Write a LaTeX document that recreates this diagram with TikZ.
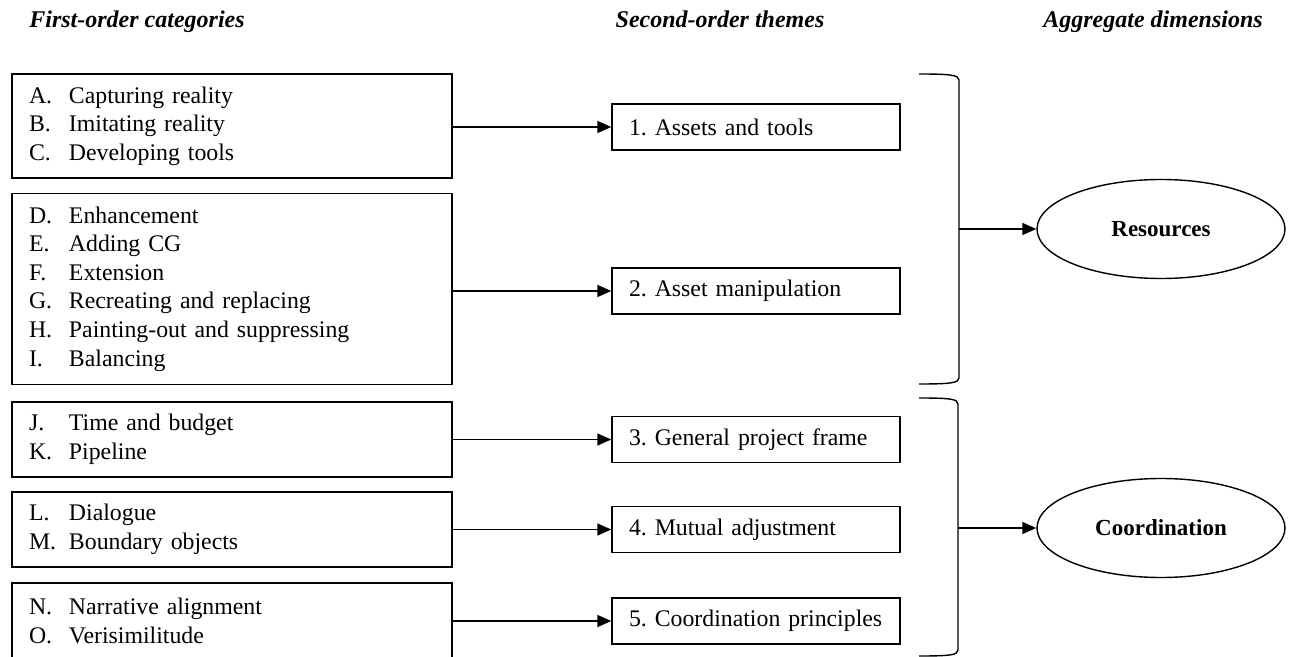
\documentclass[tikz,border=0pt]{standalone}
\usepackage{fontspec}
\setmainfont{Liberation Serif}
\usetikzlibrary{shapes.geometric,arrows.meta}
\newcommand{\itm}[2]{\makebox[20pt][l]{#1}#2}
\frenchspacing

\begin{document}
\begin{tikzpicture}[x=0.5pt,y=-0.5pt,
  every node/.style={font=\fontsize{11.9}{14.3}\selectfont},
  titre/.style={anchor=base, font=\fontsize{12}{14}\selectfont\bfseries\itshape},
  cat/.style={draw, line width=0.7pt, rectangle, text width=203pt, align=left, inner xsep=8.5pt},
  theme/.style={draw, line width=0.7pt, minimum height=23pt, text width=127pt, align=left, inner xsep=8.5pt},
  dim/.style={draw, ellipse, line width=0.7pt, minimum width=124pt, minimum height=49.5pt, font=\fontsize{11.5}{14}\selectfont\bfseries},
  fleche/.style={line width=0.7pt, -{Triangle[length=7pt,width=6pt]}},
  accolade/.style={line width=0.7pt}]

\useasboundingbox (0,0) rectangle (1295,657);

% En-tetes
\node[titre] (t1) at (137,28) {First-order categories};
\node[titre] (t2) at (720,28) {Second-order themes};
\node[titre] (t3) at (1153,28) {Aggregate dimensions};

% Categories
\node[cat, minimum height=52pt] (c1) at (232,126) {\itm{A.}{Capturing reality}\\ \itm{B.}{Imitating reality}\\ \itm{C.}{Developing tools}};
\node[cat, minimum height=95.5pt] (c2) at (232,289) {\itm{D.}{Enhancement}\\ \itm{E.}{Adding CG}\\ \itm{F.}{Extension}\\ \itm{G.}{Recreating and replacing}\\ \itm{H.}{Painting-out and suppressing}\\ \itm{I.}{Balancing}};
\node[cat, minimum height=37.5pt] (c3) at (232,439.5) {\itm{J.}{Time and budget}\\ \itm{K.}{Pipeline}};
\node[cat, minimum height=37.5pt] (c4) at (232,529.5) {\itm{L.}{Dialogue}\\ \itm{M.}{Boundary objects}};
\node[cat, minimum height=38pt] (c5) at (232,621) {\itm{N.}{Narrative alignment}\\ \itm{O.}{Verisimilitude}};

% Themes
\node[theme] (th1) at (756,127) {1. Assets and tools};
\node[theme] (th2) at (756,291) {2. Asset manipulation};
\node[theme] (th3) at (756,439.5) {3. General project frame};
\node[theme] (th4) at (756,529.5) {4. Mutual adjustment};
\node[theme] (th5) at (756,621) {5. Coordination principles};

% Dimensions
\node[dim] (res) at (1161,229) {Resources};
\node[dim] (coord) at (1161,528) {Coordination};

% Fleches
\draw[fleche] (c1.east |- th1.west) -- (th1.west);
\draw[fleche] (c2.east |- th2.west) -- (th2.west);
\draw[fleche] (c3.east |- th3.west) -- (th3.west);
\draw[fleche] (c4.east |- th4.west) -- (th4.west);
\draw[fleche] (c5.east |- th5.west) -- (th5.west);

% Accolades
\draw[accolade] (919,74) .. controls (950,74) and (959,75) .. (959,80) -- (959,378) .. controls (959,383) and (950,384) .. (919,384);
\draw[accolade] (919,398) .. controls (950,398) and (958,399) .. (958,404) -- (958,650) .. controls (958,655) and (950,656) .. (919,656);
\coordinate (b1) at (959,229);
\coordinate (b2) at (958,528);
\draw[fleche] (b1) -- (res);
\draw[fleche] (b2) -- (coord);

\end{tikzpicture}
\end{document}
